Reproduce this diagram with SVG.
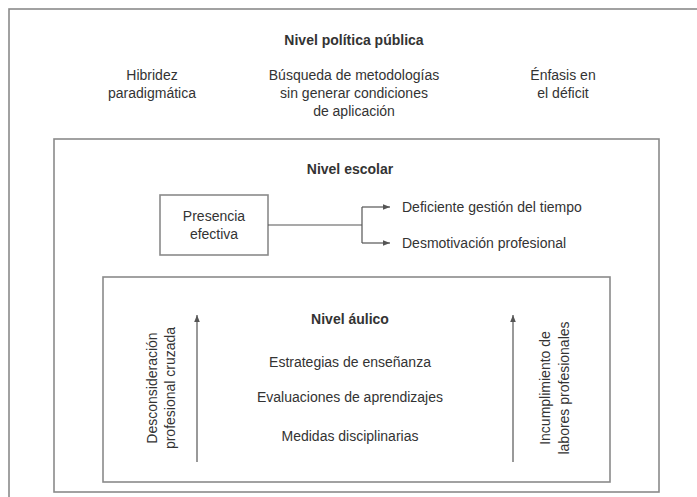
<svg xmlns="http://www.w3.org/2000/svg" width="697" height="497" viewBox="0 0 697 497">
<defs>
<marker id="ah" viewBox="0 0 10 10" refX="10" refY="5" markerWidth="7" markerHeight="7" markerUnits="userSpaceOnUse" orient="auto">
<path d="M0,1 L10,5 L0,9 Z" fill="#555"/>
</marker>
<style>
text{font-family:"Liberation Sans",Arial,sans-serif;font-size:14px;fill:#333;}
.c{text-anchor:middle;}
.b{font-weight:bold;}
.box{fill:none;stroke:#8a8a8a;stroke-width:1.6;}
.ln{fill:none;stroke:#555;stroke-width:1.2;}
</style>
</defs>
<rect width="697" height="497" fill="#fff"/>
<g id="nivel-politica">
<rect class="box" x="9" y="9" width="720" height="520"/>
<text class="c b" x="354" y="45">Nivel política pública</text>
<text class="c" x="152" y="80">Hibridez</text>
<text class="c" x="152" y="98">paradigmática</text>
<text class="c" x="354" y="80">Búsqueda de metodologías</text>
<text class="c" x="354" y="98">sin generar condiciones</text>
<text class="c" x="354" y="116">de aplicación</text>
<text class="c" x="563" y="80">Énfasis en</text>
<text class="c" x="563" y="98">el déficit</text>
</g>
<g id="nivel-escolar">
<rect class="box" x="54" y="139" width="605" height="353"/>
<text class="c b" x="350" y="174">Nivel escolar</text>
</g>
<g id="presencia">
<rect class="box" x="160" y="195" width="108" height="60"/>
<text class="c" x="214" y="221">Presencia</text>
<text class="c" x="214" y="239">efectiva</text>
</g>
<g id="deficiente"><text x="402" y="212">Deficiente gestión del tiempo</text></g>
<g id="desmotivacion"><text x="402" y="248">Desmotivación profesional</text></g>
<g id="nivel-aulico">
<rect class="box" x="103" y="277" width="507" height="205"/>
<text class="c b" x="350" y="324">Nivel áulico</text>
<text class="c" x="350" y="367">Estrategias de enseñanza</text>
<text class="c" x="350" y="402">Evaluaciones de aprendizajes</text>
<text class="c" x="350" y="441">Medidas disciplinarias</text>
</g>
<g id="desconsideracion">
<text class="c" transform="translate(157,388) rotate(-90)">Desconsideración</text>
<text class="c" transform="translate(175,388) rotate(-90)">profesional cruzada</text>
</g>
<g id="incumplimiento">
<text class="c" transform="translate(550,388) rotate(-90)">Incumplimiento de</text>
<text class="c" transform="translate(569,388) rotate(-90)">labores profesionales</text>
</g>
<g id="connectors">
<path class="ln" d="M268,225 H362 M362,207 V243"/>
<path class="ln" d="M362,207 H390" marker-end="url(#ah)"/>
<path class="ln" d="M362,243 H390" marker-end="url(#ah)"/>
<path class="ln" d="M197,462 V315" marker-end="url(#ah)"/>
<path class="ln" d="M513,462 V315" marker-end="url(#ah)"/>
</g>
</svg>
